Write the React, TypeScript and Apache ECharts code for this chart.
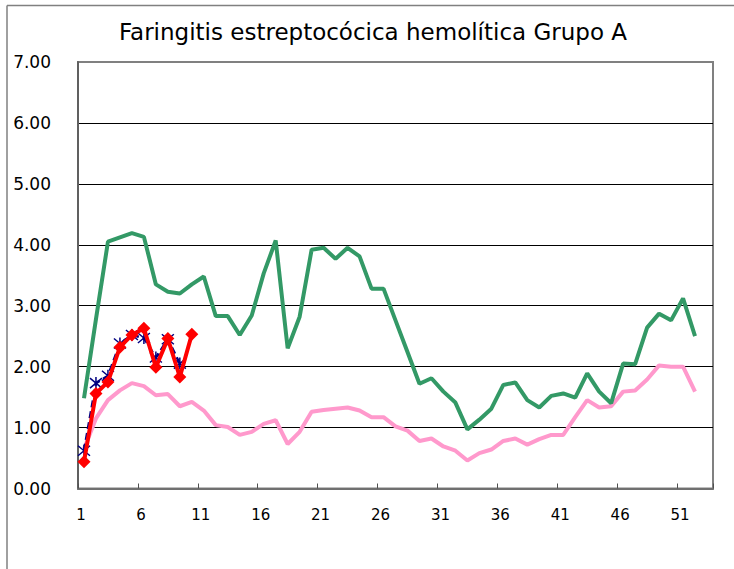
import React, { useEffect, useRef } from "react";
import * as echarts from "echarts";

const titleText = "Faringitis estreptocócica hemolítica Grupo A";

const weeks: string[] = Array.from({ length: 53 }, (_, i) => String(i + 1));

const greenSeries = [
  1.48, 2.78, 4.05, 4.12, 4.19, 4.13, 3.35, 3.23, 3.2, 3.35,
  3.48, 2.83, 2.83, 2.52, 2.84, 3.53, 4.07, 2.3, 2.82, 3.92,
  3.95, 3.77, 3.95, 3.81, 3.28, 3.28, 2.76, 2.24, 1.72, 1.81,
  1.59, 1.41, 0.97, 1.13, 1.31, 1.7, 1.74, 1.45, 1.33, 1.52,
  1.56, 1.49, 1.89, 1.59, 1.4, 2.05, 2.04, 2.64, 2.87, 2.76,
  3.12, 2.5,
];

const pinkSeries = [
  0.65, 1.15, 1.45, 1.61, 1.73, 1.68, 1.53, 1.55, 1.35, 1.42,
  1.28, 1.04, 1.01, 0.88, 0.93, 1.06, 1.12, 0.73, 0.93, 1.26,
  1.29, 1.31, 1.33, 1.28, 1.17, 1.17, 1.02, 0.95, 0.78, 0.82,
  0.69, 0.62, 0.46, 0.58, 0.64, 0.78, 0.82, 0.72, 0.81, 0.88,
  0.88, 1.17, 1.45, 1.33, 1.35, 1.59, 1.61, 1.79, 2.02, 2.0,
  2.0, 1.59,
];

const blueSeries = [0.62, 1.73, 1.85, 2.38, 2.52, 2.47, 2.15, 2.45, 2.05];

const redSeries = [0.44, 1.56, 1.75, 2.32, 2.52, 2.63, 1.99, 2.46, 1.83, 2.53];

const yMin = 0;
const yMax = 7;
const yStep = 1;

export default function App() {
  const ref = useRef<HTMLDivElement>(null);

  useEffect(() => {
    if (!ref.current) return;
    const chart = echarts.init(ref.current, null, { renderer: "svg" });
    const labelFont = "DejaVu Sans";
    chart.setOption({
      animation: false,
      backgroundColor: "#ffffff",
      graphic: [
        {
          type: "line",
          shape: { x1: 7, y1: 5.5, x2: 734, y2: 5.5 },
          style: { stroke: "#808080", lineWidth: 1.5 },
          silent: true,
        },
        {
          type: "line",
          shape: { x1: 7, y1: 5.5, x2: 7, y2: 569 },
          style: { stroke: "#808080", lineWidth: 1.5 },
          silent: true,
        },
        {
          type: "text",
          x: 373,
          y: 32,
          style: {
            text: titleText,
            fontFamily: "DejaVu Sans",
            fontSize: 23,
            fill: "#000",
            textAlign: "center",
            textVerticalAlign: "middle",
          },
          silent: true,
        },
      ],
      grid: {
        left: 78,
        right: 21,
        top: 62,
        bottom: 80.5,
        show: true,
        borderColor: "#808080",
        borderWidth: 2,
        backgroundColor: "transparent",
      },
      xAxis: {
        type: "category",
        data: weeks,
        boundaryGap: true,
        axisLine: { show: true, lineStyle: { color: "#707070", width: 2 } },
        axisTick: {
          show: true,
          interval: 4,
          inside: true,
          length: 5,
          lineStyle: { color: "#505050", width: 1 },
        },
        axisLabel: {
          interval: 4,
          margin: 19,
          fontFamily: labelFont,
          fontSize: 15,
          color: "#000",
          padding: [0, 6, 0, 0],
        },
        splitLine: { show: false },
      },
      yAxis: {
        type: "value",
        min: yMin,
        max: yMax,
        interval: yStep,
        axisLine: { show: true, lineStyle: { color: "#606060", width: 2 } },
        axisTick: { show: false },
        axisLabel: {
          margin: 27,
          fontFamily: labelFont,
          fontSize: 17,
          color: "#000",
          formatter: (v: number) => v.toFixed(2),
        },
        splitLine: {
          show: true,
          lineStyle: {
            color: ["#000", "#000", "#000", "#000", "#000", "#000", "#000", "#808080"],
            width: 1,
          },
        },
      },
      series: [
        {
          name: "pink",
          type: "line",
          data: pinkSeries,
          symbol: "none",
          lineStyle: { color: "#ff99cc", width: 4 },
          itemStyle: { color: "#ff99cc" },
          z: 2,
        },
        {
          name: "green",
          type: "line",
          data: greenSeries,
          symbol: "none",
          lineStyle: { color: "#339966", width: 4 },
          itemStyle: { color: "#339966" },
          z: 3,
        },
        {
          name: "blue",
          type: "line",
          data: blueSeries,
          symbol: "path://M0,0L10,10M10,0L0,10M5,-1L5,11",
          symbolSize: 12,
          showAllSymbol: true,
          lineStyle: { color: "#000080", width: 2.5, type: [7, 4] },
          itemStyle: { color: "none", borderColor: "#000080", borderWidth: 1.5 },
          z: 4,
        },
        {
          name: "red",
          type: "line",
          data: redSeries,
          symbol: "diamond",
          symbolSize: 13,
          showAllSymbol: true,
          lineStyle: { color: "#ff0000", width: 4 },
          itemStyle: { color: "#ff0000" },
          z: 5,
        },
      ],
    });
    return () => chart.dispose();
  }, []);

  return (
    <div
      ref={ref}
      style={{ position: "fixed", left: 0, top: 0, width: 734, height: 569 }}
    />
  );
}
